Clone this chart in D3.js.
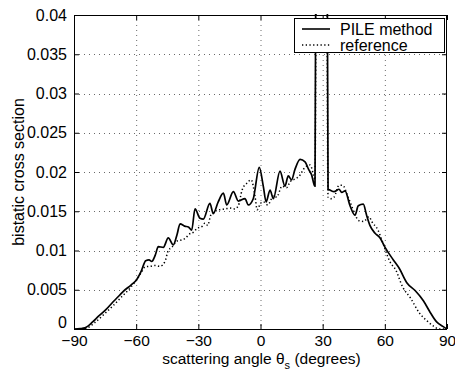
<!DOCTYPE html>
<html>
<head>
<meta charset="utf-8">
<script src="https://cdn.jsdelivr.net/npm/d3@7/dist/d3.min.js"></script>
<style>
  html, body { margin: 0; padding: 0; background: #fff; }
  svg { display: block; font-family: "Liberation Sans", Arial, Helvetica, sans-serif; }
</style>
</head>
<body>
<svg id="chart" width="455" height="373"></svg>
<script>
// ---- data ----
const pileAngles = [-90,-87,-84.7,-81,-78.3,-74.5,-71,-68,-66.2,-62.5,-59.7,-57.5,-55.4,-53.8,-52.5,-50.8,-49.3,-46.9,-44.5,-42.1,-40.3,-38.8,-36.6,-34.8,-33.2,-31.6,-29.2,-27.6,-24.4,-22.8,-20.4,-17.9,-16.3,-13.1,-10.7,-7.5,-5.9,-3.5,-0.6,1.4,2.7,4.6,6.2,9.4,11.8,13.4,15.0,16.6,19.1,21.5,23.1,24.7,26.0,26.3,26.9,28,30,31.5,32.0,32.6,33.5,35.5,37.9,39.2,40.8,43.2,45.6,47.2,49.6,51.2,52.8,55.3,57.7,60.1,64.1,67.0,70.6,74.6,78.6,81.5,85.0,88.2,90];
const pileValues = [0,0.00005,0.00015,0.0009,0.0016,0.0025,0.0035,0.0043,0.0048,0.0056,0.0063,0.0074,0.0087,0.0088,0.0086,0.0094,0.0105,0.0104,0.0116,0.0107,0.0120,0.0134,0.0131,0.0130,0.0126,0.0153,0.0141,0.0140,0.0160,0.0147,0.0162,0.0173,0.0158,0.0175,0.0163,0.0166,0.0158,0.0166,0.0206,0.0181,0.0162,0.0177,0.0166,0.0201,0.0182,0.0195,0.0190,0.0203,0.0216,0.0213,0.0204,0.0196,0.0183,0.0182,0.06,0.3,0.5,0.3,0.06,0.0178,0.0177,0.0175,0.0178,0.0174,0.0176,0.0157,0.0145,0.0157,0.0159,0.0145,0.0132,0.0122,0.0116,0.0104,0.0088,0.0077,0.0059,0.0049,0.0036,0.0023,0.0009,0.0003,0];

const refAngles = [-90,-86,-83.9,-80,-75,-71,-67,-63,-59.7,-57.5,-55.7,-53,-50.9,-48.5,-46.1,-44.5,-42.8,-40.4,-38.8,-36,-34.8,-32,-30.8,-28,-26.8,-25.5,-24,-22,-19.6,-17,-14.8,-12.5,-10.7,-8.9,-6.5,-4.5,-2.7,-1.6,0,1.4,3.5,6.4,7.8,10.4,12.6,14.4,16.6,18.4,21.5,24.0,25.6,26.3,26.9,28,30,31.5,32.0,32.6,33.9,35.5,37.9,39.7,42.1,43.5,45.1,47.5,49.9,52.3,53.9,56.7,59,62.4,65.3,68.5,72.5,76.5,80.5,83.8,86,90];
const refValues = [0,0,0.0001,0.0008,0.0020,0.0030,0.0041,0.0052,0.0063,0.0072,0.0079,0.0080,0.0081,0.0080,0.0086,0.0100,0.0104,0.0112,0.0113,0.0116,0.0120,0.0124,0.0128,0.0131,0.0135,0.0132,0.0145,0.0150,0.0152,0.0153,0.0154,0.0153,0.0157,0.0177,0.0186,0.0190,0.0170,0.0152,0.0160,0.0162,0.0158,0.0170,0.0168,0.0182,0.0180,0.0188,0.0191,0.0194,0.0206,0.0209,0.0196,0.0190,0.06,0.3,0.5,0.3,0.06,0.0168,0.0166,0.0168,0.0183,0.0183,0.0169,0.0160,0.0149,0.0138,0.0137,0.0143,0.0136,0.0126,0.0110,0.0086,0.0075,0.0054,0.0039,0.0021,0.0010,0.0003,0,0];

const xTicks = [-90,-60,-30,0,30,60,90];
const yTicks = [0,0.005,0.01,0.015,0.02,0.025,0.03,0.035,0.04];
const yTickLabels = ["0","0.005","0.01","0.015","0.02","0.025","0.03","0.035","0.04"];
const legendLabels = ["PILE method","reference"];
const xLabel = "scattering angle θ";
const xLabelSub = "s";
const xLabelTail = " (degrees)";
const yLabel = "bistatic cross section";

// ---- layout ----
const L = 74, R = 447, T = 15, B = 329;
const svg = d3.select("#chart");
svg.append("rect").attr("width",455).attr("height",373).attr("fill","#fff");

const x = d3.scaleLinear().domain([-90,90]).range([L,R]);
const y = d3.scaleLinear().domain([0,0.04]).range([B,T]);

// grid
const grid = svg.append("g").attr("stroke","#444").attr("stroke-width",0.8).attr("stroke-dasharray","1,4");
grid.selectAll(".gx").data(xTicks.slice(1,-1)).join("line")
  .attr("x1",d=>x(d)+0.5).attr("x2",d=>x(d)+0.5).attr("y1",T).attr("y2",B);
grid.selectAll(".gy").data(yTicks.slice(1,-1)).join("line")
  .attr("y1",d=>Math.round(y(d))+0.5).attr("y2",d=>Math.round(y(d))+0.5).attr("x1",L).attr("x2",R);

// clip
svg.append("clipPath").attr("id","clip").append("rect")
  .attr("x",L).attr("y",T-1).attr("width",R-L).attr("height",B-T+1);

const line = d3.line().curve(d3.curveMonotoneX).x(d=>x(d[0])).y(d=>y(d[1]));
const refData = refAngles.map((a,i)=>[a,refValues[i]]);
const pileData = pileAngles.map((a,i)=>[a,pileValues[i]]);

svg.append("path").attr("clip-path","url(#clip)").attr("d",line(refData))
  .attr("fill","none").attr("stroke","#000").attr("stroke-width",1.5).attr("stroke-dasharray","1.3,2.4");
svg.append("path").attr("clip-path","url(#clip)").attr("d",line(pileData))
  .attr("fill","none").attr("stroke","#000").attr("stroke-width",1.7).attr("stroke-linejoin","round");

// axes with inward ticks
const axB = d3.axisBottom(x).tickValues(xTicks).tickSizeInner(-5).tickSizeOuter(0).tickPadding(6)
  .tickFormat(d=> d<0 ? "\u2212"+Math.abs(d) : String(d));
const axL = d3.axisLeft(y).tickValues(yTicks).tickSizeInner(-5).tickSizeOuter(0).tickPadding(7)
  .tickFormat((d,i)=>yTickLabels[i]);
const axT = d3.axisTop(x).tickValues(xTicks).tickSizeInner(-5).tickSizeOuter(0).tickFormat("");
const axR = d3.axisRight(y).tickValues(yTicks).tickSizeInner(-5).tickSizeOuter(0).tickFormat("");

function style(g, fs){
  g.select(".domain").remove();
  g.selectAll("line").attr("stroke","#000");
  g.selectAll("text").attr("fill","#000").attr("font-size",fs||"16px")
   .attr("font-family",'"Liberation Sans", Arial, sans-serif');
}
svg.append("g").attr("transform",`translate(0,${B})`).call(axB).call(g=>style(g,"15.5px"));
const gl = svg.append("g").attr("transform",`translate(${L},0)`).call(axL).call(g=>style(g,"16px"));
gl.selectAll(".tick text").filter(d=>d===0).attr("dy","-0.1em");
svg.append("g").attr("transform",`translate(0,${T})`).call(axT).call(style);
svg.append("g").attr("transform",`translate(${R},0)`).call(axR).call(style);

// frame
svg.append("rect").attr("x",L+0.5).attr("y",T+0.5).attr("width",R-L-1).attr("height",B-T)
  .attr("fill","none").attr("stroke","#000").attr("stroke-width",1);

// axis labels
const xl = svg.append("text").attr("x",(L+R)/2+1).attr("y",364).attr("text-anchor","middle")
  .attr("font-size","15.5px").attr("fill","#000");
xl.append("tspan").text(xLabel);
xl.append("tspan").attr("dy",5).attr("font-size","11px").text(xLabelSub);
xl.append("tspan").attr("dy",-5).text(xLabelTail);

svg.append("text").attr("transform","translate(24,172) rotate(-90)").attr("text-anchor","middle")
  .attr("font-size","16px").attr("fill","#000").text(yLabel);

// legend
const lg = svg.append("g");
lg.append("rect").attr("x",294.5).attr("y",18.5).attr("width",150).attr("height",34)
  .attr("fill","#fff").attr("stroke","#000").attr("stroke-width",1);
const rows = [{dash:null, w:1.6, y:29},{dash:"1.3,2.4", w:1.5, y:45}];
rows.forEach((r,i)=>{
  lg.append("line").attr("x1",302).attr("x2",330).attr("y1",r.y).attr("y2",r.y)
    .attr("stroke","#000").attr("stroke-width",r.w).attr("stroke-dasharray",r.dash);
  lg.append("text").attr("x",340).attr("y",r.y).attr("dy","0.36em")
    .attr("font-size","16px").attr("fill","#000").text(legendLabels[i]);
});
</script>
</body>
</html>
